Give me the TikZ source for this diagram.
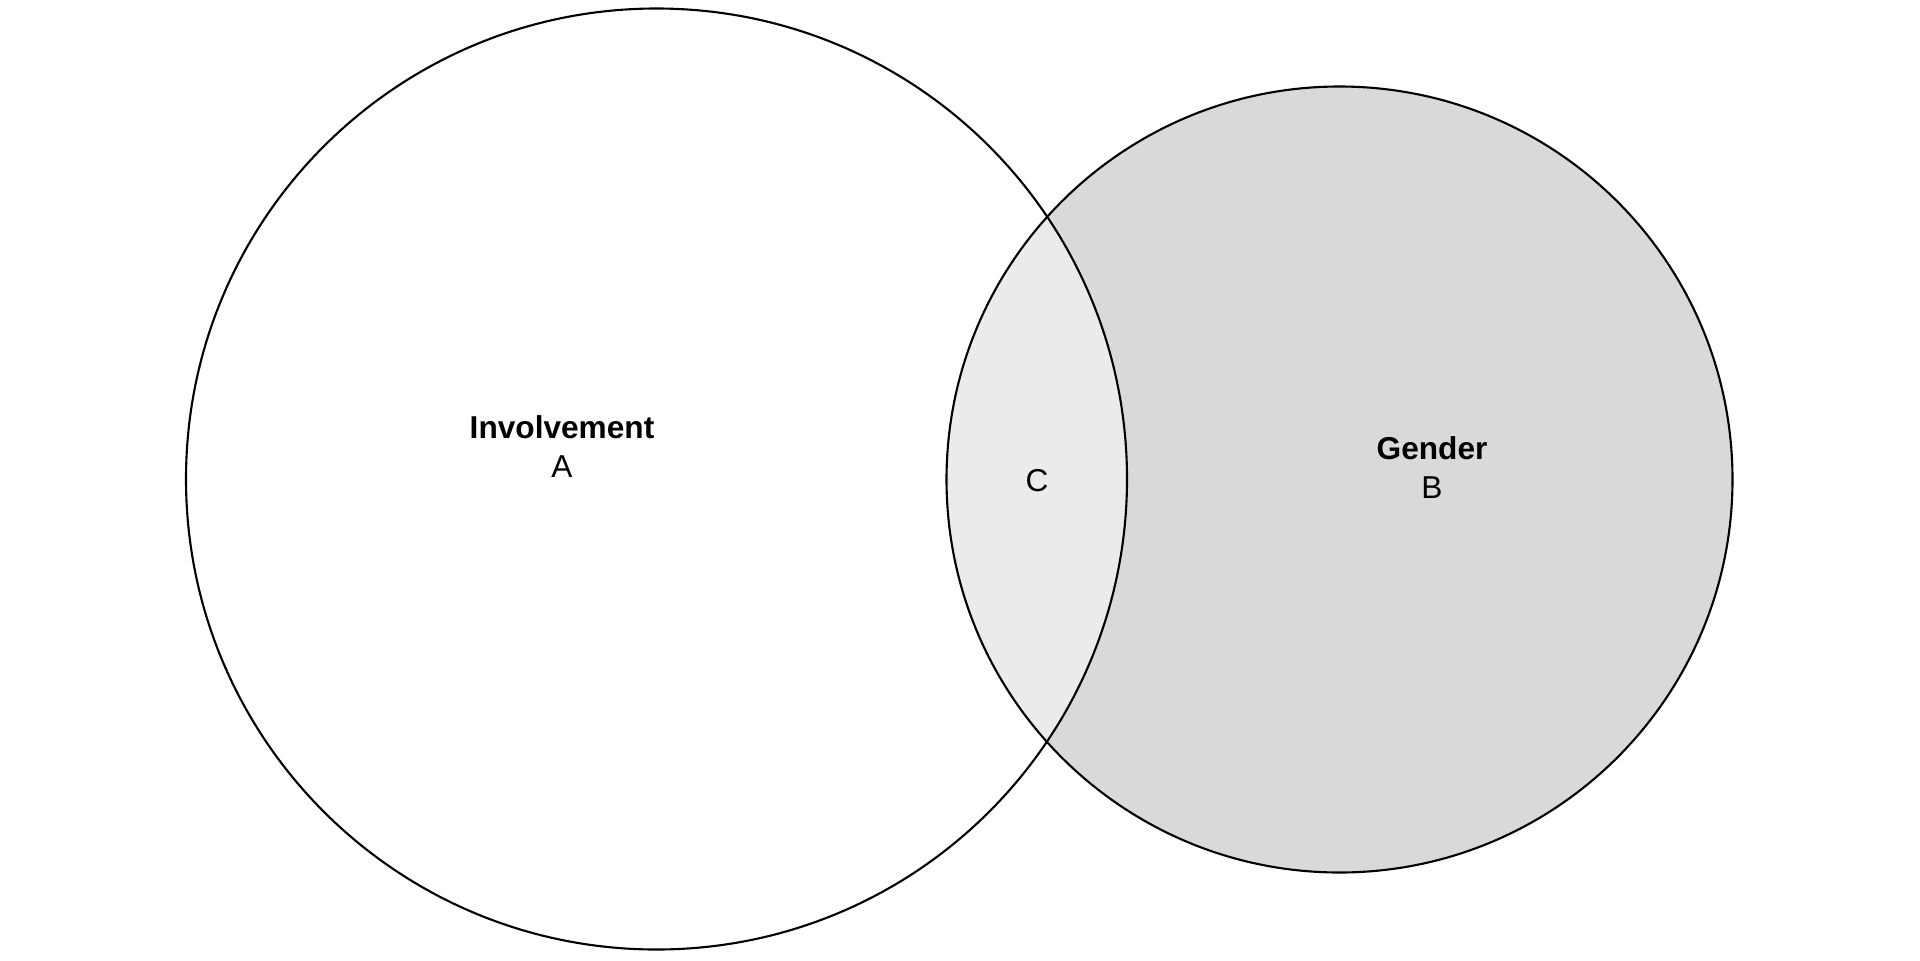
\documentclass[tikz,border=0pt]{standalone}
\usepackage{fontspec}
\setmainfont{Liberation Sans}
\usepackage{tikz}
\usetikzlibrary{%
	calc,%
	positioning,%
	backgrounds,%
}
\definecolor{cgraydark}{RGB}{217, 217, 217}
\definecolor{cgraylight}{RGB}{235, 235, 235}
\tikzset{
	nodes={align=center},%
	setline/.style={%
			draw=black,%
			line width=0.6pt},%
	setlabel/.style={%
			font={\fontsize{9}{11.1}\selectfont},%
			inner sep=0},%
}
\newcommand{\setname}[1]{\textbf{#1}}

\begin{document}
\begin{tikzpicture}
	\useasboundingbox (0,0) rectangle (19.2,9.6);%
	\coordinate (cinv) at (6.565,4.81);
	\coordinate (cgen) at (13.395,4.805);

	% fills first, outlines on top
	\fill[cgraydark] (cgen) circle (3.93);
	\begin{scope}
		\clip (cinv) circle (4.705);
		\fill[cgraylight] (cgen) circle (3.93);
	\end{scope}
	\draw[setline] (cinv) circle (4.705);
	\draw[setline] (cgen) circle (3.93);

	\node[setlabel] (inv) at (5.62,5.13) {\setname{Involvement}\\A};
	\node[setlabel] (gen) at (14.32,4.92) {\setname{Gender}\\B};
	\node[setlabel] (both) at (10.37,4.79) {C};
\end{tikzpicture}
\end{document}
